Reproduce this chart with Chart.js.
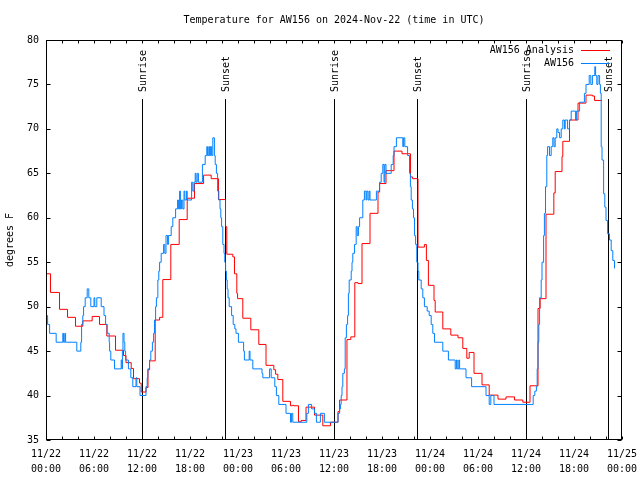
<!DOCTYPE html>
<html><head><meta charset="utf-8">
<script src="https://cdn.jsdelivr.net/npm/chart.js@4"></script>
<style>html,body{margin:0;padding:0;background:#fff}canvas{display:block}</style>
</head><body>
<canvas id="c" width="640" height="480"></canvas>
<script>
const chartTitle = 'Temperature for AW156 on 2024-Nov-22 (time in UTC)';
const yAxisLabel = 'degrees F';
const seriesNames = ['AW156 Analysis', 'AW156'];
const seriesColors = ['#ff0000', '#0080ff'];
const tickDates = ['11/22','11/22','11/22','11/22','11/23','11/23','11/23','11/23','11/24','11/24','11/24','11/24','11/25'];
const tickTimes = ['00:00','06:00','12:00','18:00','00:00','06:00','12:00','18:00','00:00','06:00','12:00','18:00','00:00'];
const sunHours = [11.98, 22.35, 35.98, 46.35, 59.98, 70.23];
const sunLabels = ['Sunrise','Sunset','Sunrise','Sunset','Sunrise','Sunset'];

// Analysis (hours since 11/22 00:00 UTC, deg F)
const anaHours = [0.0,0.56,1.69,2.69,3.69,4.6,5.77,6.69,7.6,8.69,9.69,10.0,10.65,10.94,11.69,11.9,12.5,12.75,12.95,13.65,14.2,14.6,15.6,16.65,17.65,18.56,19.7,20.65,21.56,22.44,22.6,23.35,23.56,23.85,23.95,24.6,25.6,26.6,27.5,28.48,28.7,28.98,29.6,30.56,30.8,31.0,31.56,31.9,32.5,33.56,34.6,35.56,36.5,36.7,37.62,38.1,38.6,39.0,39.5,40.5,41.5,41.7,42.5,43.5,44.5,45.56,45.8,46.5,47.3,47.55,47.8,48.5,48.65,49.6,50.6,51.5,52.1,52.6,52.9,53.5,54.5,55.4,56.5,57.5,58.56,59.6,60.5,61.5,61.77,62.5,63.48,63.65,64.5,64.6,65.44,66.5,67.5,68.3,68.56,69.5];
const anaTemps = [53.7,51.6,49.7,48.8,47.8,48.4,48.9,48.0,46.7,45.1,44.5,43.7,43.05,41.9,41.4,40.4,40.9,42.9,43.9,48.5,48.8,53.05,57.0,59.8,62.2,63.85,64.8,64.4,62.05,59.0,55.9,55.6,53.7,51.5,50.9,48.7,47.4,45.75,43.4,42.9,42.4,41.8,39.35,38.85,38.9,38.85,37.05,37.2,38.7,37.8,36.6,37.0,38.2,39.5,46.3,46.6,52.7,52.6,57.1,60.5,62.9,63.85,65.3,67.5,67.2,64.6,64.4,56.7,57.0,55.2,52.4,50.7,49.4,47.5,46.8,46.5,45.3,44.2,44.85,42.5,41.2,40.05,39.6,39.85,39.5,39.25,41.1,49.8,50.9,60.4,62.8,65.2,66.9,68.6,71.0,72.9,73.8,73.7,73.2,73.2];

// Observations
const obsHours = [0.0,0.2,0.45,1.27,2.1,2.2,2.35,2.45,3.85,4.35,4.45,4.6,4.7,4.9,5.15,5.35,5.6,6.0,6.1,6.35,6.9,7.25,7.45,7.65,7.9,7.95,8.1,8.56,9.4,9.5,9.55,9.62,9.75,9.85,9.95,10.3,10.6,10.85,11.25,11.35,11.75,12.5,12.65,12.73,12.94,13.1,13.3,13.45,13.56,13.7,13.8,13.98,14.1,14.2,14.4,14.7,14.85,15.0,15.2,15.3,15.65,15.85,16.2,16.45,16.55,16.7,16.8,16.95,17.1,17.25,17.35,17.55,17.65,18.2,18.35,18.5,18.65,18.75,18.9,19.05,19.55,19.9,20.1,20.2,20.35,20.45,20.55,20.7,20.85,21.05,21.15,21.3,21.45,21.6,21.75,21.85,21.95,22.1,22.25,22.35,22.45,22.55,22.65,22.75,22.9,23.2,23.4,23.6,23.75,24.05,24.7,24.8,25.4,25.5,25.85,27.0,27.1,27.95,28.15,28.6,28.8,29.1,30.0,30.56,30.7,30.85,32.6,32.8,33.2,33.56,33.8,34.3,34.8,36.5,36.7,36.8,36.9,37.0,37.1,37.3,37.4,37.55,37.7,37.8,37.9,38.15,38.25,38.35,38.56,38.77,38.9,39.05,39.2,39.6,39.8,40.0,40.1,40.25,40.4,40.5,41.3,41.7,41.9,42.1,42.25,42.35,42.5,43.15,43.4,43.5,43.8,44.6,44.7,44.85,45.2,45.44,45.55,45.65,45.8,45.94,46.06,46.2,46.35,46.5,46.6,46.9,47.1,47.3,47.65,47.9,48.15,48.35,48.56,49.6,50.3,51.15,51.3,51.4,51.6,51.7,52.5,53.2,55.0,55.4,55.6,56.0,60.65,60.9,61.1,61.3,61.4,61.5,61.6,61.7,61.9,62.0,62.2,62.3,62.44,62.6,62.7,62.94,63.15,63.35,63.5,63.65,63.85,64.0,64.2,64.4,64.6,64.8,64.9,65.2,65.44,65.65,66.2,66.3,66.7,67.3,67.5,67.9,68.1,68.3,68.6,68.7,68.85,69.0,69.2,69.3,69.4,69.5,69.7,69.85,70.0,70.2,70.44,70.65,70.85,71.06];
const obsTemps = [49,48,47,46,47,46,47,46,45,46,48,49,50,51,52,51,50,51,50,51,50,49,48,47,46,45,44,43,44,43,45,47,46,45,44,43,42,41,42,41,40,41,42,43,44,45,46,47,48.5,50,51,53,54,55,56,57,56,58,57,58,59,60,61,62,61,63,61,62,61,63,62,63,62,64,63,64,65,64,65,64,66,67,68,67,68,67,68,67,69,67,66,65,63,62,61,60,59,57,56,55,54,53,52,51,50,49,48,47.5,47,46,45,44,45,44,43,42.5,42,43,42,41,40,39,38,37,38,37,38,39,38.5,38,37,38,37,38,38.5,39,40,41,42.5,43,46.5,48,49,51.5,53,54,55,56,57,59,58,59,60,62,63,62,63,62,63,62,63,64,65,66,64,66,65,66,67,68,69,68,69,68,67,65,63.5,62,61,60,58,57,55,54,53,52,51,50,49.5,49,48,47,46,45,44,43,44,43,44,43,42,41,40,39,40,39,39,40,40.5,41,43,46,48,51,53,55,58,60.5,63.5,67,68,67,68,69,68,69,70,69.6,69,70,71,70,71,70,71,72,71,72,73,74,75,76,75,76,77,76,75,76,75,74,68,66.5,62.7,61.2,59.7,58.2,57.5,56.3,55.2,54.3];

const FAMILY = '"DejaVu Sans Mono", "Liberation Mono", monospace';
const FONT = '10px ' + FAMILY;

const decor = {
  id: 'decor',
  beforeDatasetsDraw(chart) {
    const {ctx, chartArea: a, scales: {x}} = chart;
    ctx.save();
    ctx.strokeStyle = '#000';
    ctx.lineWidth = 1;
    const lineTop = Math.round(a.top + 59);
    sunHours.forEach(h => {
      const px = Math.round(x.getPixelForValue(h)) + 0.5;
      ctx.beginPath();
      ctx.moveTo(px, a.bottom);
      ctx.lineTo(px, lineTop);
      ctx.stroke();
    });
    ctx.restore();
  },
  afterDraw(chart) {
    const {ctx, chartArea: a, scales: {x, y}} = chart;
    ctx.save();
    ctx.strokeStyle = '#000';
    ctx.lineWidth = 1;
    const L = Math.round(a.left) + 0.5, R = Math.round(a.right) - 0.5;
    const T = Math.round(a.top) + 0.5, B = Math.round(a.bottom) - 0.5;
    ctx.strokeRect(L, T, R - L, B - T);
    ctx.beginPath();
    for (let v = x.min; v <= x.max + 1e-6; v += 2) {
      const px = Math.round(x.getPixelForValue(v)) + 0.5;
      ctx.moveTo(px, B); ctx.lineTo(px, B - 3);
      ctx.moveTo(px, T); ctx.lineTo(px, T + 3);
    }
    y.ticks.forEach(t => {
      const py = Math.round(y.getPixelForValue(t.value)) + 0.5;
      ctx.moveTo(L, py); ctx.lineTo(L + 4, py);
      ctx.moveTo(R, py); ctx.lineTo(R - 4, py);
    });
    ctx.stroke();

    ctx.fillStyle = '#000';
    ctx.font = FONT;
    ctx.textAlign = 'left';
    ctx.textBaseline = 'middle';
    sunHours.forEach((h, i) => {
      const px = Math.round(x.getPixelForValue(h)) + 1;
      ctx.save();
      ctx.translate(px, a.top + 52);
      ctx.rotate(-Math.PI / 2);
      ctx.fillText(sunLabels[i], 0, 0);
      ctx.restore();
    });
    ctx.textAlign = 'right';
    seriesNames.forEach((name, i) => {
      const yy = Math.round(a.top + 10 + i * 13) + 0.5;
      ctx.fillStyle = '#000';
      ctx.fillText(name, a.right - 48, yy);
      ctx.strokeStyle = seriesColors[i];
      ctx.beginPath();
      ctx.moveTo(a.right - 41, yy);
      ctx.lineTo(a.right - 12, yy);
      ctx.stroke();
    });
    ctx.fillStyle = '#000';
    ctx.textAlign = 'center';
    ctx.fillText(chartTitle, (a.left + a.right) / 2, 20);
    ctx.restore();
  }
};

new Chart(document.getElementById('c'), {
  type: 'line',
  data: {
    datasets: [
      {
        label: seriesNames[0],
        data: anaHours.map((h, i) => ({x: h, y: anaTemps[i]})),
        borderColor: seriesColors[0],
        borderWidth: 1,
        pointRadius: 0,
        stepped: true,
        fill: false,
        order: 1
      },
      {
        label: seriesNames[1],
        data: obsHours.map((h, i) => ({x: h, y: obsTemps[i]})),
        borderColor: seriesColors[1],
        borderWidth: 1,
        pointRadius: 0,
        stepped: true,
        fill: false,
        order: 0
      }
    ]
  },
  options: {
    responsive: false,
    animation: false,
    devicePixelRatio: 1,
    layout: {padding: {top: 40, right: 18, left: 0, bottom: 0}},
    plugins: {legend: {display: false}, tooltip: {enabled: false}, title: {display: false}},
    scales: {
      x: {
        type: 'linear',
        min: 0, max: 72,
        grid: {display: false, drawTicks: false, tickLength: 0},
        border: {display: false},
        afterFit(s) { s.height = 40; s.paddingLeft = 0; s.paddingRight = 0; },
        ticks: {
          stepSize: 6,
          autoSkip: false,
          maxRotation: 0,
          padding: 7,
          color: '#000',
          font: {family: FAMILY, size: 10, lineHeight: 1.5},
          callback: (v) => { const i = Math.round(v / 6); return [tickDates[i], tickTimes[i]]; }
        }
      },
      y: {
        min: 35, max: 80,
        grid: {display: false, drawTicks: false, tickLength: 0},
        border: {display: false},
        afterFit(s) { s.width = 46; s.paddingTop = 0; s.paddingBottom = 0; },
        title: {display: true, text: yAxisLabel, color: '#000', font: {family: FAMILY, size: 10}, padding: {top: 4, bottom: 0}},
        ticks: {
          stepSize: 5,
          padding: 7,
          color: '#000',
          font: {family: FAMILY, size: 10}
        }
      }
    }
  },
  plugins: [decor]
});
</script>
</body></html>
